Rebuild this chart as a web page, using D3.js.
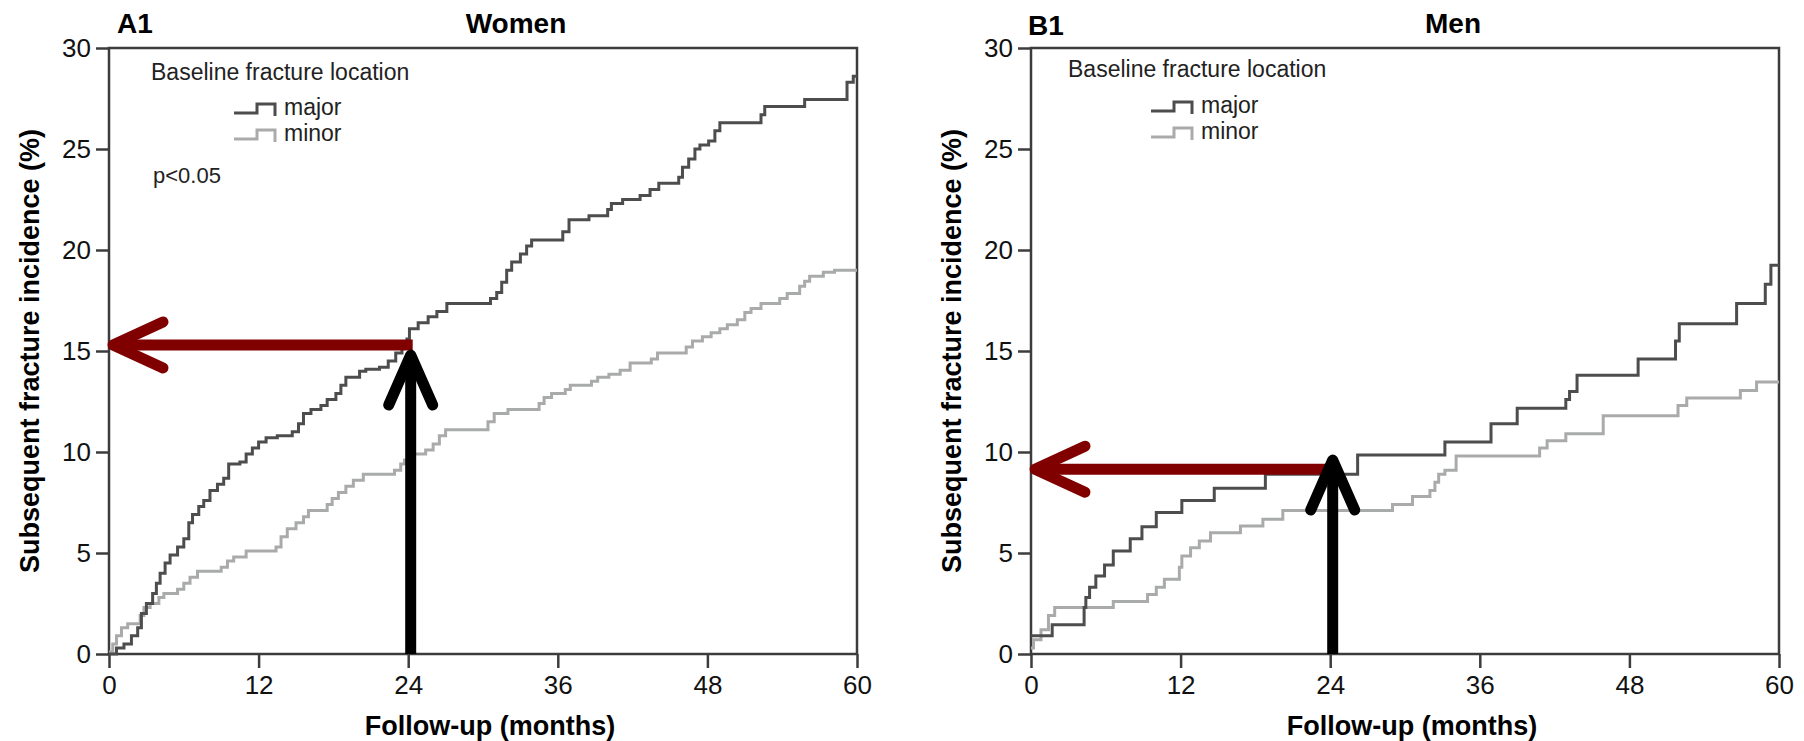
<!DOCTYPE html>
<html>
<head>
<meta charset="utf-8">
<script src="https://cdn.jsdelivr.net/npm/d3@7"></script>
<style>
    body { margin: 0; background: #fff; }
    svg { display: block; font-family: "Liberation Sans", Arial, Helvetica, sans-serif; }
</style>
</head>
<body>
<svg id="chart" width="1804" height="741"></svg>
<script>
// ticks
const xTicks = [0, 12, 24, 36, 48, 60];
const yTicks = [0, 5, 10, 15, 20, 25, 30];

// [month, cumulative incidence % after the step]
const womenMajor = [
    [0, 0], [0.6, 0.3], [1.2, 0.5], [1.8, 0.9], [2.3, 1.3], [2.6, 2.0], [3.0, 2.5], [3.5, 3.0],
    [3.8, 3.5], [4.1, 4.0], [4.5, 4.5], [4.9, 4.9], [5.5, 5.3], [6.0, 5.7], [6.4, 6.5], [6.7, 6.9],
    [7.2, 7.3], [7.6, 7.6], [8.1, 8.1], [8.7, 8.4], [9.2, 8.7], [9.6, 9.4], [10.5, 9.5], [11.0, 9.9],
    [11.5, 10.2], [12.0, 10.5], [12.6, 10.7], [13.5, 10.8], [14.7, 11.0], [15.2, 11.4], [15.6, 11.9],
    [16.2, 12.1], [17.0, 12.3], [17.5, 12.6], [18.2, 12.9], [18.6, 13.3], [19.0, 13.7], [20.1, 14.0],
    [20.6, 14.1], [21.7, 14.2], [22.4, 14.5], [23.0, 14.9], [23.5, 15.2], [23.9, 15.6], [24.1, 16.1],
    [24.8, 16.4], [25.6, 16.7], [26.3, 16.95], [27.1, 17.35], [30.6, 17.6], [31.1, 17.9], [31.5, 18.4],
    [31.9, 19.0], [32.3, 19.4], [33.0, 19.8], [33.5, 20.2], [33.9, 20.5], [36.4, 20.9], [36.9, 21.5],
    [38.5, 21.7], [40.0, 22.0], [40.3, 22.3], [41.2, 22.5], [42.6, 22.7], [43.4, 23.0], [44.1, 23.3],
    [45.7, 23.6], [46.0, 24.1], [46.5, 24.5], [47.0, 25.0], [47.4, 25.2], [48.1, 25.4], [48.6, 25.9],
    [49.0, 26.3], [52.3, 26.7], [52.6, 27.1], [55.8, 27.45], [59.2, 28.3], [59.7, 28.6], [60, 28.6]
];

const womenMinor = [
    [0, 0.1], [0.3, 0.5], [0.6, 0.9], [1.0, 1.3], [1.5, 1.5], [2.5, 1.9], [2.8, 2.3], [3.3, 2.5],
    [4.0, 2.8], [4.4, 3.0], [5.5, 3.2], [6.0, 3.5], [6.5, 3.8], [7.1, 4.1], [9.0, 4.3], [9.5, 4.6],
    [10.0, 4.8], [11.0, 5.1], [13.4, 5.3], [13.8, 5.8], [14.3, 6.2], [15.0, 6.5], [15.6, 6.8],
    [16.0, 7.1], [17.5, 7.4], [17.9, 7.7], [18.4, 8.0], [19.0, 8.3], [19.6, 8.6], [20.4, 8.9],
    [22.9, 9.1], [23.4, 9.4], [23.7, 9.6], [24.4, 9.9], [25.4, 10.1], [26.0, 10.4], [26.5, 10.8],
    [27.0, 11.1], [30.4, 11.5], [30.9, 11.9], [32.0, 12.1], [34.5, 12.4], [34.9, 12.7], [35.5, 12.9],
    [36.6, 13.1], [37.0, 13.3], [38.7, 13.5], [39.2, 13.7], [40.1, 13.85], [41.0, 14.05], [41.8, 14.4],
    [43.5, 14.6], [44.0, 14.9], [46.3, 15.2], [46.8, 15.5], [47.6, 15.7], [48.3, 15.9], [49.0, 16.1],
    [49.6, 16.3], [50.4, 16.55], [51.0, 16.9], [51.5, 17.1], [52.3, 17.35], [53.8, 17.6], [54.4, 17.85],
    [55.4, 18.2], [55.8, 18.45], [56.2, 18.7], [57.3, 18.9], [58.2, 19.0], [60, 19.0]
];

const menMajor = [
    [0, 0.9], [1.7, 1.45], [4.26, 2.3], [4.4, 2.8], [4.7, 3.3], [5.2, 3.86], [5.9, 4.4], [6.6, 5.1],
    [7.96, 5.7], [8.9, 6.3], [10.05, 7.0], [12.1, 7.6], [14.7, 8.2], [18.8, 8.9], [26.2, 9.85],
    [33.2, 10.5], [36.9, 11.4], [39.0, 12.17], [42.9, 12.6], [43.2, 13.0], [43.8, 13.8], [48.7, 14.6],
    [51.7, 15.5], [52.0, 16.35], [56.6, 17.35], [58.9, 18.3], [59.35, 19.25], [60, 19.25]
];

const menMinor = [
    [0, 0.3], [0.2, 0.7], [0.8, 1.2], [1.4, 1.9], [1.9, 2.3], [6.6, 2.6], [9.35, 2.95], [10.05, 3.3],
    [10.7, 3.7], [11.9, 4.3], [12.1, 4.85], [12.8, 5.26], [13.5, 5.6], [14.4, 6.0], [16.8, 6.34],
    [18.6, 6.67], [20.2, 7.1], [29.0, 7.4], [30.6, 7.8], [32.0, 8.1], [32.4, 8.5], [32.7, 8.9],
    [33.2, 9.1], [34.1, 9.8], [40.8, 10.2], [41.4, 10.56], [42.9, 10.9], [45.9, 11.8], [51.9, 12.3],
    [52.6, 12.67], [56.9, 13.05], [58.2, 13.46], [60, 13.46]
];

// annotation arrows: month marker, red arrow level, black arrow tip
const arrowMonth = 24.2;
const redArrowLevels = [15.3, 9.15];
const blackArrowTips = [14.8, 9.6];

const panelTags = ['A1', 'B1'];
const panelTitles = ['Women', 'Men'];
const legendTitle = 'Baseline fracture location';
const seriesNames = ['major', 'minor'];
const pText = 'p<0.05';

const majorColor = '#4d4d4d';
const minorColor = '#a9abaa';
const axisColor = '#3c3c3c';

const svg = d3.select('#chart');

function drawPanel(n, left, major, minor, legendDx, titleX) {

    const top = 48, bottom = 654, w = 748;
    const x = d3.scaleLinear().domain([0, 60]).range([left, left + w]);
    const y = d3.scaleLinear().domain([0, 30]).range([bottom, top]);
    const g = svg.append('g');

    // axes
    const xa = g.append('g')
        .attr('transform', `translate(0,${bottom})`)
        .call(d3.axisBottom(x).tickValues(xTicks).tickSize(14).tickPadding(8));
    const ya = g.append('g')
        .attr('transform', `translate(${left},0)`)
        .call(d3.axisLeft(y).tickValues(yTicks).tickSize(13).tickPadding(5));
    [xa, ya].forEach(a => {
        a.select('.domain').remove();
        a.selectAll('line').attr('stroke', axisColor).attr('stroke-width', 2.5);
        a.selectAll('text').attr('font-size', '26px').attr('fill', '#111');
    });

    g.append('rect')
        .attr('x', left).attr('y', top)
        .attr('width', w).attr('height', bottom - top)
        .attr('fill', 'none')
        .attr('stroke', axisColor)
        .attr('stroke-width', 2.5);

    const line = d3.line()
        .x(d => x(d[0]))
        .y(d => y(d[1]))
        .curve(d3.curveStepAfter);

    g.append('path').datum(minor)
        .attr('d', line).attr('fill', 'none')
        .attr('stroke', minorColor).attr('stroke-width', 3);
    g.append('path').datum(major)
        .attr('d', line).attr('fill', 'none')
        .attr('stroke', majorColor).attr('stroke-width', 3);

    // titles
    g.append('text').text(panelTags[n])
        .attr('x', left + 8 - n * 11).attr('y', 33 + n * 2)
        .attr('font-size', '28px').attr('font-weight', 'bold');
    g.append('text').text(panelTitles[n])
        .attr('x', titleX).attr('y', 33)
        .attr('text-anchor', 'middle')
        .attr('font-size', '28px').attr('font-weight', 'bold');

    g.append('text').text('Subsequent fracture incidence (%)')
        .attr('transform', `translate(${left - 70},${(top + bottom) / 2}) rotate(-90)`)
        .attr('text-anchor', 'middle')
        .attr('font-size', '27px').attr('font-weight', 'bold');
    g.append('text').text('Follow-up (months)')
        .attr('x', x(30) + 7).attr('y', 735)
        .attr('text-anchor', 'middle')
        .attr('font-size', '27px').attr('font-weight', 'bold');

    // legend
    const lx = left + legendDx;
    g.append('text').text(legendTitle)
        .attr('x', lx).attr('y', 80 - n * 3)
        .attr('font-size', '23px').attr('fill', '#222');
    seriesNames.forEach((s, i) => {
        const by = 115 - n * 2 + i * 26;
        g.append('path')
            .attr('d', `M${lx + 83},${by - 2} H${lx + 106} V${by - 11} H${lx + 124} V${by + 1}`)
            .attr('fill', 'none')
            .attr('stroke', i === 0 ? majorColor : minorColor)
            .attr('stroke-width', 3);
        g.append('text').text(s)
            .attr('x', lx + 133).attr('y', by)
            .attr('font-size', '23px').attr('fill', '#222');
    });

    if (n === 0) {
        g.append('text').text(pText)
            .attr('x', lx + 2).attr('y', 183)
            .attr('font-size', '22px').attr('fill', '#222');
    }

    // red horizontal arrow
    const ry = y(redArrowLevels[n]);
    const tipX = x(0) + 4;
    g.append('line')
        .attr('x1', x(arrowMonth) + 2).attr('x2', tipX + 6)
        .attr('y1', ry).attr('y2', ry)
        .attr('stroke', '#800000').attr('stroke-width', 11);
    g.append('polyline')
        .attr('points', `${tipX + 50},${ry - 23} ${tipX},${ry} ${tipX + 50},${ry + 23}`)
        .attr('fill', 'none')
        .attr('stroke', '#800000').attr('stroke-width', 11)
        .attr('stroke-linecap', 'round').attr('stroke-linejoin', 'round');

    // black vertical arrow
    const bx = x(arrowMonth);
    const by = y(blackArrowTips[n]);
    g.append('line')
        .attr('x1', bx).attr('x2', bx)
        .attr('y1', y(0)).attr('y2', by + 6)
        .attr('stroke', '#000').attr('stroke-width', 11);
    g.append('polyline')
        .attr('points', `${bx - 22},${by + 50} ${bx},${by} ${bx + 22},${by + 50}`)
        .attr('fill', 'none')
        .attr('stroke', '#000').attr('stroke-width', 11)
        .attr('stroke-linecap', 'round').attr('stroke-linejoin', 'round');
}

drawPanel(0, 109, womenMajor, womenMinor, 42, 516);
drawPanel(1, 1031, menMajor, menMinor, 37, 1453);
</script>
</body>
</html>
